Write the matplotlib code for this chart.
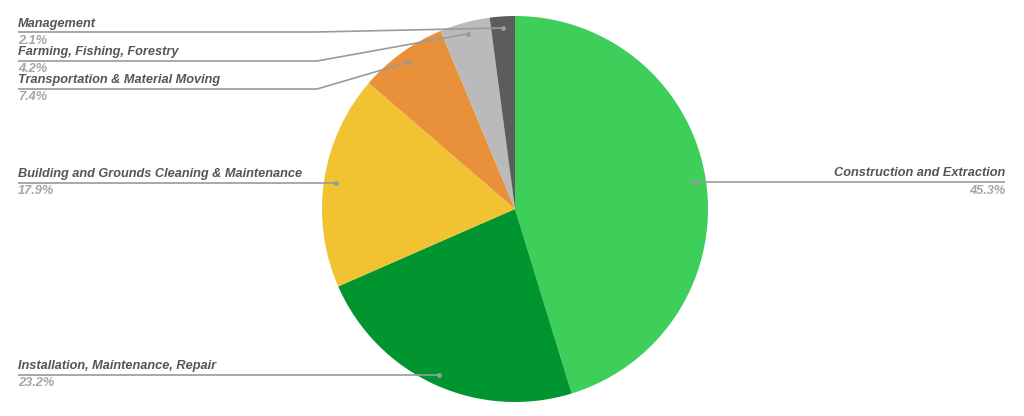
import numpy as np
import matplotlib
matplotlib.use("Agg")
import matplotlib.pyplot as plt

# Data
categories = [
    "Construction and Extraction",
    "Installation, Maintenance, Repair",
    "Building and Grounds Cleaning & Maintenance",
    "Transportation & Material Moving",
    "Farming, Fishing, Forestry",
    "Management",
]
shares = [45.3, 23.2, 17.9, 7.4, 4.2, 2.1]
colors = ["#3ecf5a", "#00952f", "#f1c232", "#e8913a", "#bababa", "#5c5c5c"]

# label layout (pixel rows of the underline, side, elbow x)
line_rows = [182, 375, 183, 89, 61, 32]
sides = ["right", "left", "left", "left", "left", "left"]
elbows = [None, None, None, 317, 317, 317]

W, H = 1024, 416
fig = plt.figure(figsize=(W / 100, H / 100), dpi=100)
ax = fig.add_axes([0, 0, 1, 1])

cx, cy, R = 515, H - 209, 193
wedges, _ = ax.pie(shares, colors=colors, startangle=90, counterclock=False,
                   center=(cx, cy), radius=R, wedgeprops=dict(linewidth=0))
ax.set_xlim(0, W)
ax.set_ylim(0, H)
ax.set_aspect("equal")
ax.axis("off")

lc = "#9a9a9a"
fs = 9.2
for w, cat, val, row, side, ex in zip(wedges, categories, shares, line_rows, sides, elbows):
    mid = np.deg2rad((w.theta1 + w.theta2) / 2)
    axx = cx + 0.94 * R * np.cos(mid)
    ayy = cy + 0.94 * R * np.sin(mid)
    ly = H - row
    if side == "left":
        tx = 18
        if ex is None:
            xs, ys = [axx, tx], [ly, ly]
            dot = (axx, ly)
        else:
            xs, ys = [axx, ex, tx], [ayy, ly, ly]
            dot = (axx, ayy)
        ha = "left"
    else:
        tx = 1005
        xs, ys = [axx, tx], [ly, ly]
        dot = (axx, ly)
        ha = "right"
    ax.plot(xs, ys, color=lc, lw=1.2, solid_capstyle="butt")
    ax.plot([dot[0]], [dot[1]], "o", color=lc, ms=2.5)
    ax.text(tx, ly + 2.5, cat, ha=ha, va="bottom", fontsize=fs,
            family="Liberation Sans", weight="bold", style="italic", color="#555555")
    ax.text(tx, ly - 2.5, f"{val}%", ha=ha, va="top", fontsize=fs,
            family="Liberation Sans", weight="bold", style="italic", color="#a6a6a6")

plt.savefig("out.png", dpi=100)
